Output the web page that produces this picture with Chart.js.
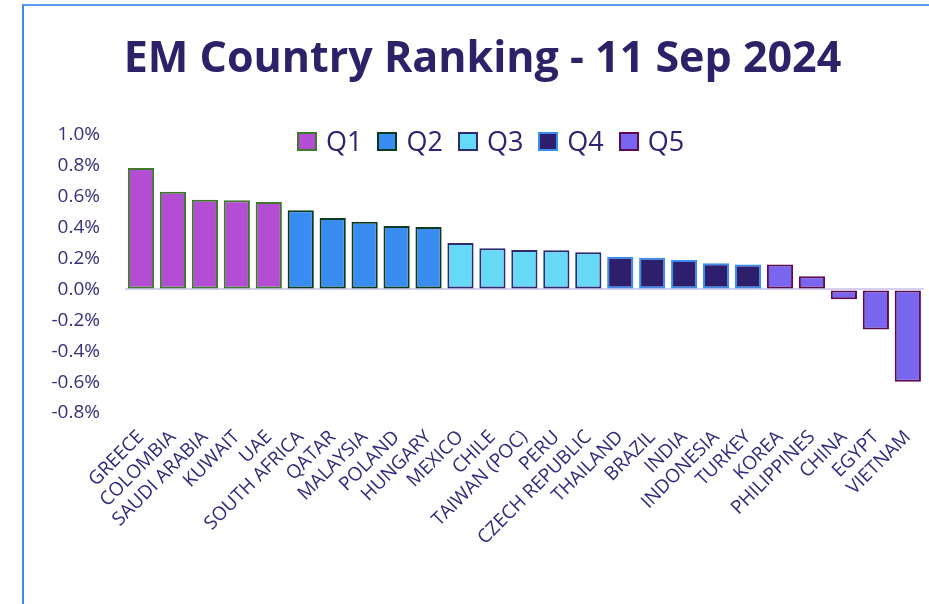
<!DOCTYPE html>
<html>
<head>
<meta charset="utf-8">
<title>EM Country Ranking</title>
<script src="https://cdn.jsdelivr.net/npm/chart.js@4.4.1/dist/chart.umd.min.js"></script>
<style>
body { margin: 0; background: #fff; }
#main {
  position: absolute; left: 22px; top: 4px; width: 907px; height: 600px;
  box-sizing: border-box;
  border-left: 2px solid #3b86ef; border-top: 2px solid #5b9af2;
}
#chartBox { position: absolute; left: 0; top: 0; width: 905px; height: 598px; }
.legend {
  position: absolute; left: 273px; top: 125px;
  display: flex; align-items: center;
  font-family: 'Open Sans', sans-serif; font-size: 27px; color: #2d2370;
}
.legendItem { display: flex; align-items: center; margin-right: 15px; line-height: 20px; }
.legendBox { width: 20px; height: 19px; box-sizing: border-box; border: 2px solid; margin-right: 9px; }
</style>
</head>
<body>
<div id="main"><div id="chartBox"><canvas id="myChart"></canvas></div></div>
<script>
// data (% return)
var countries = ['GREECE', 'COLOMBIA', 'SAUDI ARABIA', 'KUWAIT', 'UAE',
  'SOUTH AFRICA', 'QATAR', 'MALAYSIA', 'POLAND', 'HUNGARY',
  'MEXICO', 'CHILE', 'TAIWAN (POC)', 'PERU', 'CZECH REPUBLIC',
  'THAILAND', 'BRAZIL', 'INDIA', 'INDONESIA', 'TURKEY',
  'KOREA', 'PHILIPPINES', 'CHINA', 'EGYPT', 'VIETNAM'];
var values = [0.787, 0.632, 0.580, 0.577, 0.566,
  0.513, 0.462, 0.438, 0.410, 0.405,
  0.300, 0.267, 0.256, 0.254, 0.241,
  0.212, 0.206, 0.191, 0.170, 0.161,
  0.161, 0.085, -0.063, -0.260, -0.597];
var quintile = [0, 0, 0, 0, 0, 1, 1, 1, 1, 1, 2, 2, 2, 2, 2, 3, 3, 3, 3, 3, 4, 4, 4, 4, 4];
var quintileNames = ['Q1', 'Q2', 'Q3', 'Q4', 'Q5'];
var fillColors = ['#b34dd4', '#3a8df0', '#66d9f7', '#2d1f6b', '#7866f0'];
var lineColors = ['#3f7a2c', '#0b3a1f', '#2e2a6e', '#3a8df0', '#5c0c4c'];
var yTicks = [-0.8, -0.6, -0.4, -0.2, 0, 0.2, 0.4, 0.6, 0.8, 1.0];

var main = document.getElementById('main');

// legend sits inside the plot, like the original
var legend = document.createElement('div');
legend.className = 'legend';
main.appendChild(legend);
for (let i = 0; i < quintileNames.length; i++) {
  var item = document.createElement('div');
  item.className = 'legendItem';
  var box = document.createElement('span');
  box.className = 'legendBox';
  box.style.background = fillColors[i];
  box.style.borderColor = lineColors[i];
  item.appendChild(box);
  var txt = document.createElement('span');
  txt.textContent = quintileNames[i];
  item.appendChild(txt);
  legend.appendChild(item);
}

var barFill = quintile.map(function (q) { return fillColors[q]; });
var barLine = quintile.map(function (q) { return lineColors[q]; });

var ctx = document.getElementById('myChart');
var myChart = new Chart(ctx, {
  type: 'bar',
  data: {
    labels: countries,
    datasets: [{
      label: 'EM country ranking',
      data: values,
      backgroundColor: barFill,
      borderColor: barLine,
      borderWidth: 2,
      borderSkipped: false,
      barPercentage: 0.82,
      categoryPercentage: 1
    }]
  },
  options: {
    responsive: true,
    maintainAspectRatio: false,
    animation: false,
    layout: { padding: { left: 15, right: 3, top: 0, bottom: 0 } },
    plugins: {
      legend: { display: false },
      tooltip: { enabled: false },
      title: {
        display: true,
        text: 'EM Country Ranking - 11 Sep 2024',
        color: '#2b2268',
        font: { family: 'Open Sans', size: 43, weight: 'bold' },
        padding: { top: 28, bottom: 49.4 }
      }
    },
    scales: {
      x: {
        grid: { display: false },
        border: { display: false },
        ticks: {
          autoSkip: false, minRotation: 45, maxRotation: 45,
          color: '#2e2a7c', padding: 5,
          font: { family: 'Open Sans', size: 19 }
        },
        afterFit: function (s) { s.height = 191; }
      },
      y: {
        min: -0.8, max: 1.0,
        border: { display: false },
        grid: {
          drawTicks: false,
          lineWidth: 2,
          color: function (c) { return Math.abs(c.tick.value) < 1e-9 ? '#d3d0f0' : 'rgba(0,0,0,0)'; }
        },
        afterBuildTicks: function (s) { s.ticks = yTicks.map(function (v) { return { value: v }; }); },
        ticks: {
          color: '#35307a', padding: 25,
          font: { family: 'Open Sans', size: 19 },
          callback: function (v) { return v.toFixed(1) + '%'; }
        },
        afterFit: function (s) { s.width = 86; }
      }
    }
  }
});
</script>
</body>
</html>
